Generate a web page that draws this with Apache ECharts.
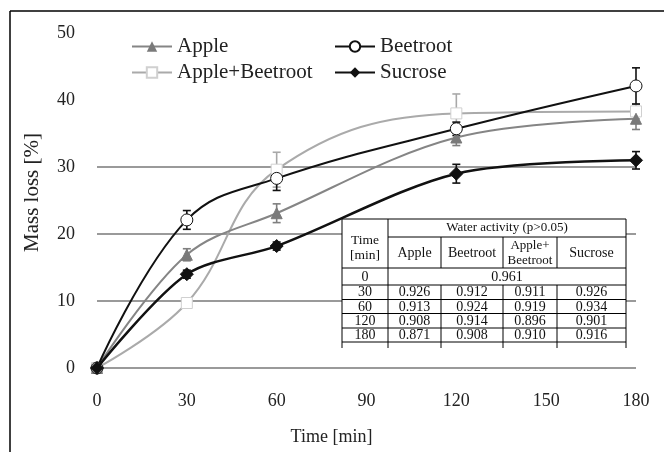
<!DOCTYPE html>
<html>
<head>
<meta charset="utf-8">
<script src="https://cdn.jsdelivr.net/npm/echarts@6/dist/echarts.min.js"></script>
<style>html,body{margin:0;padding:0;background:#fff;}#c{width:664px;height:452px;}</style>
</head>
<body>
<div id="c"></div>
<script>
// ---- chart data ----
var times = [0, 30, 60, 120, 180];
var apple = [0, 16.9, 23.1, 34.4, 37.2];
var beetroot = [0, 22.1, 28.3, 35.7, 42.1];
var appleBeet = [0, 9.7, 29.6, 38.0, 38.3];
var sucrose = [0, 14.0, 18.2, 29.0, 31.0];
var appleErr = [0, 0.9, 1.4, 1.2, 1.6];
var beetrootErr = [0, 1.4, 1.8, 1.0, 2.7];
var appleBeetErr = [0, 0, 2.6, 2.9, 1.1];
var sucroseErr = [0, 0.6, 0.6, 1.4, 1.3];
var xTicks = [0, 30, 60, 90, 120, 150, 180];
var yTicks = [0, 10, 20, 30, 40, 50];

// ---- table data ----
var tableTitle = 'Water activity (p>0.05)';
var tableHead = ['Apple', 'Beetroot', 'Apple+\nBeetroot', 'Sucrose'];
var tableTimes = ['0', '30', '60', '120', '180'];
var tableInitial = '0.961';
var tableApple = ['0.926', '0.913', '0.908', '0.871'];
var tableBeetroot = ['0.912', '0.924', '0.914', '0.908'];
var tableAppleBeet = ['0.911', '0.919', '0.896', '0.910'];
var tableSucrose = ['0.926', '0.934', '0.901', '0.916'];

var FONT = 'Liberation Serif';

function pts(v) { return times.map(function (t, i) { return [t, v[i]]; }); }
function errSeries(v, e, color, z) {
  return {
    type: 'custom', z: z, silent: true,
    data: times.map(function (t, i) { return [t, v[i], e[i]]; }),
    renderItem: function (params, api) {
      var x = api.value(0), y = api.value(1), d = api.value(2);
      if (!d) return null;
      var a = api.coord([x, y + d]), b = api.coord([x, y - d]);
      var hw = 4, st = { stroke: color, lineWidth: 1.6 };
      return { type: 'group', children: [
        { type: 'line', shape: { x1: a[0], y1: a[1], x2: b[0], y2: b[1] }, style: st },
        { type: 'line', shape: { x1: a[0] - hw, y1: a[1], x2: a[0] + hw, y2: a[1] }, style: st },
        { type: 'line', shape: { x1: b[0] - hw, y1: b[1], x2: b[0] + hw, y2: b[1] }, style: st }
      ] };
    }
  };
}

// ---- table graphic ----
var tL = 342, tR = 626, tT = 219, cTime = 388;
var colX = [388, 441, 503, 557, 626];
var rowY = [268, 285, 299.5, 313.5, 328, 342];
var graphics = [
  { type: 'line', z: 100, shape: { x1: 10, y1: 11, x2: 664, y2: 11 }, style: { stroke: '#000', lineWidth: 1.5 } },
  { type: 'line', z: 100, shape: { x1: 10, y1: 11, x2: 10, y2: 452 }, style: { stroke: '#000', lineWidth: 1.5 } },
  { type: 'rect', z: 100, shape: { x: tL, y: tT, width: tR - tL, height: 348 - tT }, style: { fill: '#ffffff', stroke: 'none' } }
];
function L(x1, y1, x2, y2) { graphics.push({ type: 'line', z: 101, shape: { x1: x1, y1: y1, x2: x2, y2: y2 }, style: { stroke: '#000', lineWidth: 1 } }); }
function T(x, y, s, fs) { graphics.push({ type: 'text', z: 102, x: x, y: y, style: { text: s, fontFamily: FONT, fontSize: fs || 13, fill: '#111', align: 'center', verticalAlign: 'middle', lineHeight: 15 } }); }
L(tL, tT, tR, tT);
L(cTime, 237, tR, 237);
rowY.forEach(function (y) { L(tL, y, tR, y); });
L(tL, tT, tL, 348);
L(tR, tT, tR, 348);
L(cTime, tT, cTime, 348);
for (var k = 1; k < 4; k++) { L(colX[k], 237, colX[k], 268); L(colX[k], 285, colX[k], 348); }
T((cTime + tR) / 2, 228, tableTitle, 13);
T((tL + cTime) / 2, 248, 'Time\n[min]', 13.5);
for (var k = 0; k < 4; k++) T((colX[k] + colX[k + 1]) / 2, 253, tableHead[k], k === 2 ? 13 : 14);
for (var r = 0; r < 5; r++) T((tL + cTime) / 2, (rowY[r] + rowY[r + 1]) / 2 + 0.5, tableTimes[r], 14);
T((cTime + tR) / 2, 277, tableInitial, 14);
var cols = [tableApple, tableBeetroot, tableAppleBeet, tableSucrose];
for (var k = 0; k < 4; k++) for (var r = 0; r < 4; r++) T((colX[k] + colX[k + 1]) / 2, (rowY[r + 1] + rowY[r + 2]) / 2 + 0.5, cols[k][r], 14);

var chart = echarts.init(document.getElementById('c'));
function legendFor(name, left, top) {
  return { data: [name], left: left, top: top, padding: 0, itemWidth: 40, itemHeight: 13, itemGap: 0, selectedMode: false,
    textStyle: { fontFamily: FONT, fontSize: 21, color: '#222' } };
}
chart.setOption({
  animation: false,
  backgroundColor: '#fff',
  textStyle: { fontFamily: FONT },
  grid: { left: 97, right: 28, top: 33, bottom: 84, containLabel: false },
  legend: [legendFor('Apple', 131, 36), legendFor('Beetroot', 334, 36), legendFor('Apple+Beetroot', 131, 62), legendFor('Sucrose', 334, 62)],
  xAxis: {
    type: 'value', min: 0, max: 180, interval: 30,
    name: 'Time [min]', nameLocation: 'middle', nameGap: 60,
    nameTextStyle: { fontFamily: FONT, fontSize: 18, color: '#222', padding: [0, 70, 0, 0] },
    axisLine: { show: false }, axisTick: { show: false }, splitLine: { show: false },
    axisLabel: { margin: 24, fontFamily: FONT, fontSize: 18, color: '#222',
      formatter: function (v) { return xTicks.indexOf(v) >= 0 ? String(v) : ''; } }
  },
  yAxis: {
    type: 'value', min: 0, max: 50, interval: 10,
    name: 'Mass loss [%]', nameLocation: 'middle', nameGap: 54, nameRotate: 90,
    nameTextStyle: { fontFamily: FONT, fontSize: 21, color: '#222', padding: [0, 0, 0, 16] },
    axisLine: { show: false }, axisTick: { show: false },
    splitLine: { show: true, lineStyle: { color: ['#9a9a9a', '#9a9a9a', '#9a9a9a', '#9a9a9a', 'rgba(0,0,0,0)', 'rgba(0,0,0,0)'], width: 2 } },
    axisLabel: { margin: 22, fontFamily: FONT, fontSize: 18, color: '#222',
      formatter: function (v) { return yTicks.indexOf(v) >= 0 ? String(v) : ''; } }
  },
  series: [
    errSeries(appleBeet, appleBeetErr, '#a8a8a8', 2),
    errSeries(apple, appleErr, '#7f7f7f', 2),
    errSeries(beetroot, beetrootErr, '#111', 2),
    errSeries(sucrose, sucroseErr, '#111', 2),
    { name: 'Apple+Beetroot', type: 'line', smooth: 0.4, data: pts(appleBeet), z: 3,
      symbol: 'rect', symbolSize: 11, lineStyle: { color: '#aaaaaa', width: 2 },
      itemStyle: { color: '#fff', borderColor: '#d0d0d0', borderWidth: 1 } },
    { name: 'Apple', type: 'line', smooth: 0.35, data: pts(apple), z: 4,
      symbol: 'triangle', symbolSize: 11, lineStyle: { color: '#858585', width: 2 },
      itemStyle: { color: '#7a7a7a', borderColor: '#7a7a7a' } },
    { name: 'Beetroot', type: 'line', smooth: 0.4, data: pts(beetroot), z: 5,
      symbol: 'circle', symbolSize: 12, lineStyle: { color: '#111', width: 2 },
      itemStyle: { color: '#fff', borderColor: '#111', borderWidth: 1 } },
    { name: 'Sucrose', type: 'line', smooth: 0.3, data: pts(sucrose), z: 6,
      symbol: 'diamond', symbolSize: 13, lineStyle: { color: '#111', width: 2.5 },
      itemStyle: { color: '#111', borderColor: '#111' } }
  ],
  graphic: graphics
});
</script>
</body>
</html>
